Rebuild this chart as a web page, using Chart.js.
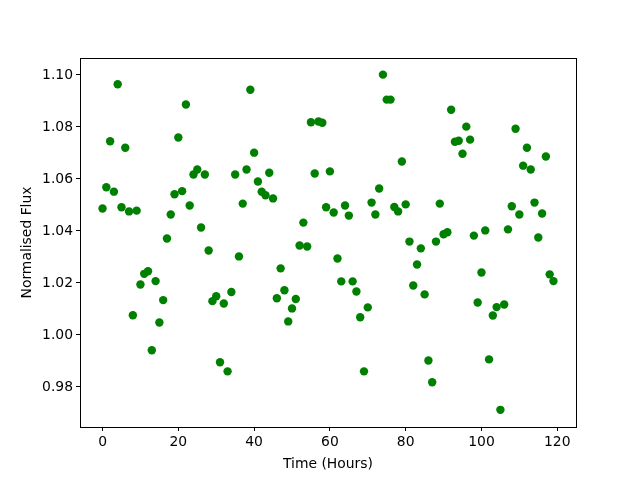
<!DOCTYPE html>
<html>
<head>
<meta charset="utf-8">
<script src="https://cdn.jsdelivr.net/npm/chart.js@4"></script>
<style>
  html, body { margin: 0; padding: 0; background: #fff; }
</style>
</head>
<body>
<canvas id="fluxChart" width="640" height="480"></canvas>
<script>
// observation times (hours)
const hours = [
  0, 1, 2, 3, 4, 5, 6, 7, 8, 9, 10, 11, 12, 13, 14, 15, 16, 17, 18, 19,
  20, 21, 22, 23, 24, 25, 26, 27, 28, 29, 30, 31, 32, 33, 34, 35, 36, 37, 38, 39,
  40, 41, 42, 43, 44, 45, 46, 47, 48, 49, 50, 51, 52, 53, 54, 55, 56, 57, 58, 59,
  60, 61, 62, 63, 64, 65, 66, 67, 68, 69, 70, 71, 72, 73, 74, 75, 76, 77, 78, 79,
  80, 81, 82, 83, 84, 85, 86, 87, 88, 89, 90, 91, 92, 93, 94, 95, 96, 97, 98, 99,
  100, 101, 102, 103, 104, 105, 106, 107, 108, 109, 110, 111, 112, 113, 114, 115, 116, 117, 118, 119
];

// normalised flux
const flux = [
  1.0486, 1.0568, 1.0745, 1.0551, 1.0964, 1.0491, 1.0720, 1.0475, 1.0076, 1.0478,
  1.0194, 1.0235, 1.0245, 0.9941, 1.0207, 1.0048, 1.0134, 1.0371, 1.0463, 1.0541,
  1.0759, 1.0553, 1.0886, 1.0498, 1.0617, 1.0636, 1.0413, 1.0617, 1.0325, 1.0130,
  1.0149, 0.9895, 1.0121, 0.9860, 1.0165, 1.0617, 1.0302, 1.0505, 1.0636, 1.0943,
  1.0701, 1.0590, 1.0551, 1.0537, 1.0624, 1.0525, 1.0141, 1.0256, 1.0172, 1.0052,
  1.0102, 1.0138, 1.0344, 1.0432, 1.0340, 1.0818, 1.0621, 1.0821, 1.0816, 1.0491,
  1.0629, 1.0471, 1.0294, 1.0206, 1.0498, 1.0459, 1.0206, 1.0167, 1.0068, 0.9860,
  1.0106, 1.0509, 1.0463, 1.0563, 1.1001, 1.0905, 1.0905, 1.0492, 1.0475, 1.0667,
  1.0502, 1.0359, 1.0190, 1.0271, 1.0333, 1.0156, 0.9902, 0.9818, 1.0359, 1.0505,
  1.0387, 1.0395, 1.0866, 1.0743, 1.0747, 1.0697, 1.0801, 1.0751, 1.0382, 1.0125,
  1.0240, 1.0402, 0.9906, 1.0075, 1.0107, 0.9712, 1.0117, 1.0406, 1.0495, 1.0793,
  1.0463, 1.0651, 1.0720, 1.0636, 1.0509, 1.0375, 1.0467, 1.0686, 1.0233, 1.0207
];

const xTicks = [0, 20, 40, 60, 80, 100, 120];
const yTicks = [0.98, 1.00, 1.02, 1.04, 1.06, 1.08, 1.10];

const FONT = { family: 'DejaVu Sans', size: 13.9 };

// matplotlib-style box around the plot area
const frameBox = {
    id: 'frameBox',
    afterDraw(chart) {
        const a = chart.chartArea;
        const ctx = chart.ctx;
        ctx.save();
        ctx.strokeStyle = '#000';
        ctx.lineWidth = 1;
        ctx.strokeRect(Math.round(a.left) + 0.5, Math.round(a.top) + 0.5,
            Math.round(a.right - a.left), Math.round(a.bottom - a.top));
        ctx.restore();
    }
};

const points = hours.map((h, i) => ({ x: h, y: flux[i] }));

new Chart(document.getElementById('fluxChart'), {
    type: 'scatter',
    data: {
        datasets: [{
            data: points,
            backgroundColor: '#008000',
            borderColor: '#008000',
            pointRadius: 4.2,
            pointHoverRadius: 4.2,
            borderWidth: 0
        }]
    },
    options: {
        responsive: false,
        animation: false,
        events: [],
        layout: { padding: { left: 15, top: 58, right: 64, bottom: 0 } },
        plugins: {
            legend: { display: false },
            tooltip: { enabled: false }
        },
        scales: {
            x: {
                type: 'linear',
                min: -5.95,
                max: 124.95,
                afterBuildTicks: scale => { scale.ticks = xTicks.map(v => ({ value: v })); },
                afterFit: scale => { scale.height = 53; },
                ticks: {
                    color: '#000',
                    font: FONT,
                    padding: 3,
                    maxRotation: 0,
                    callback: v => String(v)
                },
                grid: {
                    drawOnChartArea: false,
                    drawTicks: true,
                    tickLength: 4,
                    color: '#000'
                },
                border: { display: true, color: '#000' },
                title: {
                    display: true,
                    text: 'Time (Hours)',
                    color: '#000',
                    font: FONT,
                    padding: { top: 2, bottom: 7 }
                }
            },
            y: {
                type: 'linear',
                min: 0.9646,
                max: 1.1065,
                afterBuildTicks: scale => { scale.ticks = yTicks.map(v => ({ value: v })); },
                afterFit: scale => { scale.width = 65; },
                ticks: {
                    color: '#000',
                    font: FONT,
                    padding: 3,
                    callback: v => v.toFixed(2)
                },
                grid: {
                    drawOnChartArea: false,
                    drawTicks: true,
                    tickLength: 4,
                    color: '#000'
                },
                border: { display: true, color: '#000' },
                title: {
                    display: true,
                    text: 'Normalised Flux',
                    color: '#000',
                    font: FONT,
                    padding: { top: 4, bottom: 4 }
                }
            }
        }
    },
    plugins: [frameBox]
});
</script>
</body>
</html>
